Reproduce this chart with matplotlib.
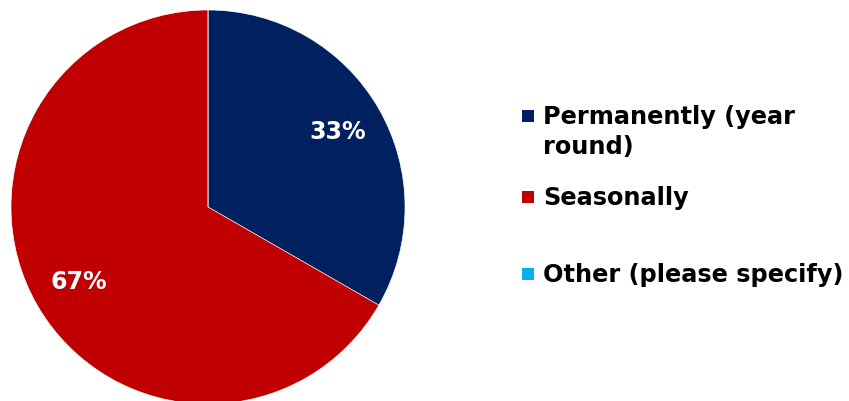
import matplotlib.pyplot as plt
from matplotlib.patches import Rectangle

labels = ["Permanently (year\nround)", "Seasonally", "Other (please specify)"]
values = [33.3, 66.7, 0]
colors = ["#002060", "#C00000", "#00B0F0"]

plt.rcParams['font.family'] = ['DejaVu Sans']

fig = plt.figure(figsize=(8.49, 4.01), dpi=100)
ax = fig.add_axes([0.01296, -0.00748, 0.4641, 0.9825])


def pct(p):
    return "" if p < 0.5 else "%d%%" % round(p)


wedges, texts, autotexts = ax.pie(values, colors=colors, startangle=90, counterclock=False,
                                  autopct=pct, pctdistance=0.76,
                                  wedgeprops=dict(edgecolor='white', linewidth=0.4),
                                  textprops=dict(color='white', fontsize=17, fontweight='bold'))
ax.set_aspect('equal')
ax.set_xlim(-1, 1)
ax.set_ylim(-1, 1)

# legend drawn by hand, marker aligned with first line like the original
legend_y = [116, 197, 274]  # px from top
for lab, col, y in zip(labels, colors, legend_y):
    fy = 1 - y / 401
    fig.patches.append(Rectangle((522 / 849, fy - 6 / 401), 12 / 849, 12 / 401,
                                 transform=fig.transFigure, facecolor=col, edgecolor='none'))
    fig.text(543 / 849, fy + 11 / 401, lab, fontsize=17.3, fontweight='bold', color='black',
             va='top', ha='left', linespacing=1.32)

fig.savefig("out.png", dpi=100)
